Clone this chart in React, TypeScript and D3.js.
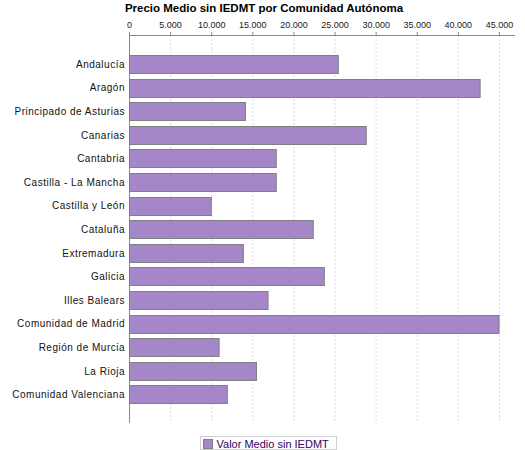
import React, { useEffect, useRef } from 'react'
import * as d3 from 'd3'

const regions = [
  'Andalucía',
  'Aragón',
  'Principado de Asturias',
  'Canarias',
  'Cantabria',
  'Castilla - La Mancha',
  'Castilla y León',
  'Cataluña',
  'Extremadura',
  'Galicia',
  'Illes Balears',
  'Comunidad de Madrid',
  'Región de Murcia',
  'La Rioja',
  'Comunidad Valenciana',
]
const values = [25400, 42650, 14100, 28800, 17850, 17850, 9950, 22350, 13850, 23700, 16850, 44950, 10900, 15450, 11900]
const ticks = [0, 5000, 10000, 15000, 20000, 25000, 30000, 35000, 40000, 45000]
const seriesName = 'Valor Medio sin IEDMT'
const title = 'Precio Medio sin IEDMT por Comunidad Autónoma'

const W = 525
const H = 450
const margin = { top: 35, right: 10, bottom: 27, left: 129 }

export default function App() {
  const ref = useRef<SVGSVGElement>(null)

  useEffect(() => {
    const svg = d3.select(ref.current)
    svg.selectAll('*').remove()
    const width = W - margin.left - margin.right
    const height = H - margin.top - margin.bottom

    const x = d3.scaleLinear().domain([0, 46950]).range([0, width])
    const y = d3.scaleBand().domain(regions).range([0, height]).paddingInner(0.25).paddingOuter(0.85)

    svg.append('text')
      .attr('x', 264).attr('y', 12)
      .attr('text-anchor', 'middle')
      .style('font-family', 'Liberation Sans, Arial, sans-serif')
      .style('font-weight', 'bold')
      .style('font-size', '11.5px')
      .text(title)

    const g = svg.append('g').attr('transform', `translate(${margin.left},${margin.top})`)

    // dashed grid lines
    g.selectAll('.grid').data(ticks.slice(1)).enter().append('line')
      .attr('x1', d => x(d) + 0.5).attr('x2', d => x(d) + 0.5)
      .attr('y1', 0).attr('y2', height)
      .attr('stroke', '#d8d8d8')
      .attr('stroke-dasharray', '2,2')

    // top axis
    const axisTop = g.append('g')
      .call(d3.axisTop(x).tickValues(ticks).tickSize(3).tickFormat(d => d3.format(',')(d as number).replace(/,/g, '.')))
    axisTop.select('.domain').attr('stroke', '#888').attr('d', `M0.5,0.5H${width}`)
    axisTop.selectAll('.tick line').attr('stroke', '#888')
    axisTop.selectAll('.tick text')
      .attr('y', -7)
      .style('font-family', 'Liberation Sans, Arial, sans-serif')
      .style('font-size', '9px')
      .attr('fill', '#222')

    // left axis
    const axisLeft = g.append('g').call(d3.axisLeft(y).tickSize(0).tickPadding(4))
    axisLeft.select('.domain').attr('stroke', '#888').attr('d', `M0.5,0V${height}`)
    axisLeft.selectAll('.tick text')
      .attr('dy', '0.4em')
      .style('font-family', 'Liberation Sans, Arial, sans-serif')
      .style('font-size', '10px')
      .style('letter-spacing', '0.5px')
      .attr('fill', '#111')

    // bars
    g.selectAll('.bar').data(regions).enter().append('rect')
      .attr('x', 0.5)
      .attr('y', d => Math.round(y(d)!) + 0.5)
      .attr('width', (d, i) => x(values[i]))
      .attr('height', Math.round(y.bandwidth()))
      .attr('fill', '#a586c9')
      .attr('stroke', '#808080')
      .attr('stroke-width', 1)

    // legend
    const lg = svg.append('g').attr('transform', 'translate(200.5,436.5)')
    lg.append('rect').attr('width', 136).attr('height', 13).attr('fill', 'white').attr('stroke', '#d0d0d0')
    lg.append('rect').attr('x', 3).attr('y', 3).attr('width', 9).attr('height', 9)
      .attr('fill', '#a586c9').attr('stroke', '#808080')
    lg.append('text').attr('x', 16).attr('y', 11)
      .style('font-family', 'Liberation Sans, Arial, sans-serif')
      .style('font-size', '11px')
      .attr('fill', '#330066')
      .text(seriesName)
  }, [])

  return (
    <svg ref={ref} width={W} height={H} style={{ position: 'absolute', left: 0, top: 0, background: 'white' }} />
  )
}
